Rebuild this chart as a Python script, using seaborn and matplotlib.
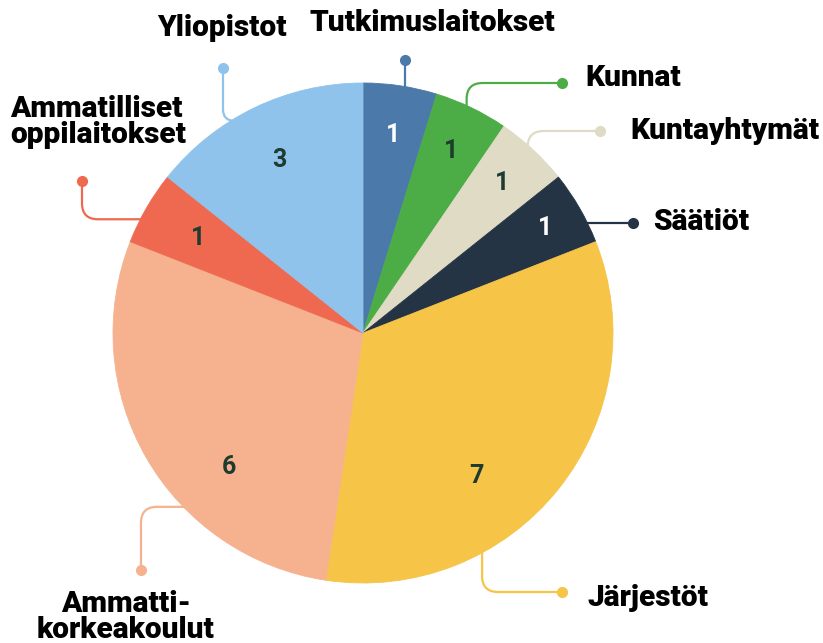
import numpy as np
import matplotlib.pyplot as plt
import seaborn as sns
from matplotlib.path import Path
from matplotlib.patches import PathPatch

# data
categories = ["Tutkimuslaitokset", "Kunnat", "Kuntayhtymät", "Säätiöt",
              "Järjestöt", "Ammatti-\nkorkeakoulut",
              "Ammatilliset\noppilaitokset", "Yliopistot"]
counts = [1, 1, 1, 1, 7, 6, 1, 3]

# styling
colors = sns.color_palette(["#4b79aa", "#4cad47", "#e0dbc4", "#253445",
                            "#f6c446", "#f6b28f", "#ef6950", "#8fc3ec"])
value_colors = ["white", "#1e3b30", "#1e3b30", "white",
                "#1e3b30", "#1e3b30", "#1e3b30", "#1e3b30"]
value_shift = [0, 0, 0, 0, -13, 15, 0, 0]     # degrees off the wedge middle
value_radius = [0.80, 0.81, 0.82, 0.84, 0.73, 0.76, 0.76, 0.77]

# leader lines: anchor angle on rim, first direction, dot position (px)
leaders = [
    (80.3, "v", (None, 60)),
    (65.3, "v", (562, 83)),
    (48.4, "v", (600, 131)),
    (26.3, "h", (633, None)),
    (-61.3, "v", (562, 592)),
    (-135.5, "h", (141, 570)),
    (152.7, "h", (82, 181)),
    (121.2, "h", (223, 68)),
]
# label positions (px) and alignment
label_pos = [
    (432, 23, "center"), (585, 78, "left"), (630, 131, "left"),
    (653, 222, "left"), (588, 598, "left"), (126, 617, "center"),
    (10, 122, "left"), (222, 28, "center"),
]

W, H = 823, 643
CX, CY, R = 363, 333, 250


def P(y):
    return H - y


sns.set_style("white")
plt.rcParams["font.family"] = ["Roboto", "DejaVu Sans"]

fig = plt.figure(figsize=(W / 100, H / 100), dpi=100)
ax = fig.add_axes([0, 0, 1, 1])

wedges, _ = ax.pie(counts, colors=colors, startangle=90, counterclock=False,
                   center=(CX, P(CY)), radius=R,
                   wedgeprops=dict(linewidth=0.6))
for w, c in zip(wedges, colors):
    w.set_edgecolor(c)

# value labels
for i, w in enumerate(wedges):
    mid = np.deg2rad((w.theta1 + w.theta2) / 2 + value_shift[i])
    r = R * value_radius[i]
    ax.text(CX + r * np.cos(mid), P(CY) + r * np.sin(mid), str(counts[i]),
            ha="center", va="center", fontsize=18, fontweight="bold",
            color=value_colors[i])

# leader lines with rounded elbows
for i, (ang, first, dot) in enumerate(leaders):
    a = np.deg2rad(ang)
    x0 = CX + (R - 2) * np.cos(a)
    y0 = CY - (R - 2) * np.sin(a)
    dx, dy = dot
    if dx is None:
        dx = x0
    if dy is None:
        dy = y0
    if first == "v":
        corner = (x0, dy)
    else:
        corner = (dx, y0)
    l1 = np.hypot(corner[0] - x0, corner[1] - y0)
    l2 = np.hypot(dx - corner[0], dy - corner[1])
    rad = min(16, l1, l2)
    if rad < 1:
        verts = [(x0, y0), (dx, dy)]
        codes = [Path.MOVETO, Path.LINETO]
    else:
        u1 = ((corner[0] - x0) / l1, (corner[1] - y0) / l1)
        u2 = ((dx - corner[0]) / l2, (dy - corner[1]) / l2)
        p1 = (corner[0] - u1[0] * rad, corner[1] - u1[1] * rad)
        p2 = (corner[0] + u2[0] * rad, corner[1] + u2[1] * rad)
        verts = [(x0, y0), p1, corner, p2, (dx, dy)]
        codes = [Path.MOVETO, Path.LINETO, Path.CURVE3, Path.CURVE3, Path.LINETO]
    verts = [(vx, P(vy)) for vx, vy in verts]
    ax.add_patch(PathPatch(Path(verts, codes), fill=False,
                           edgecolor=colors[i], linewidth=1.6, zorder=3))
    ax.plot(dx, P(dy), "o", color=colors[i], markersize=7, zorder=4)

# category labels
for i, (lx, ly, ha) in enumerate(label_pos):
    ax.text(lx, P(ly), categories[i], ha=ha, va="center", fontsize=21.5,
            fontweight="black", color="black", linespacing=0.92,
            multialignment=ha)

ax.set_xlim(0, W)
ax.set_ylim(0, H)
ax.set_aspect("equal")
ax.axis("off")

fig.savefig("out.png", dpi=100, facecolor="white")
